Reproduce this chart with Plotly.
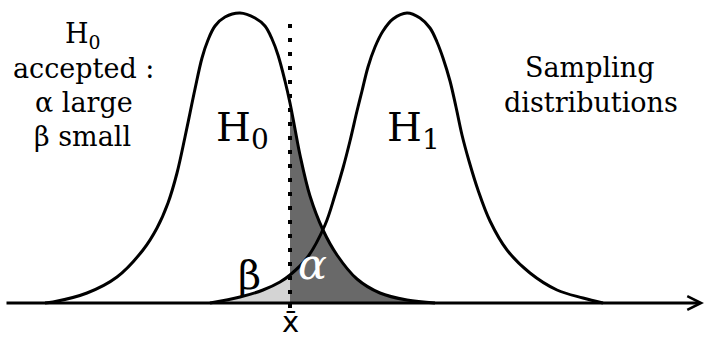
import plotly.graph_objects as go

# curve samples (x in px, height above the axis in px)
h0_x = [45, 53, 87, 117, 143, 157, 168, 177, 185, 190, 195, 202, 208, 215, 225, 240,
        255, 265, 272, 278, 285, 290, 295, 300, 310, 323, 337, 357, 380, 407, 435]
h0_y = [0, 1, 10, 26, 53, 75, 100, 130, 166, 190, 214, 245, 263, 277, 286, 290,
        285, 277, 264, 248, 222, 200, 174, 148, 107, 73, 48, 24, 10, 3, 0]

h1_x = [210, 240, 263, 280, 290, 307, 325, 335, 343, 350, 357, 362, 368, 375, 383, 393, 407,
        420, 430, 437, 443, 450, 456, 462, 469, 478, 490, 507, 530, 557, 583, 603]
h1_y = [0, 6, 13, 21, 28, 45, 78, 108, 135, 162, 192, 212, 236, 256, 272, 284, 290,
        285, 275, 261, 245, 222, 196, 168, 142, 113, 82, 53, 30, 13, 5, 0]

xbar = 290
axis_start, axis_end = 5, 704

serif = "DejaVu Serif"

fig = go.Figure()

# alpha: tail of H0 right of xbar
ax_ = [x for x in h0_x if x >= xbar]
ay_ = [y for x, y in zip(h0_x, h0_y) if x >= xbar]
fig.add_trace(go.Scatter(x=ax_, y=ay_, mode="lines", line=dict(width=0, shape="spline"),
                         fill="tozeroy", fillcolor="rgb(105,105,105)", hoverinfo="skip"))

# beta: tail of H1 left of xbar
bx_ = [x for x in h1_x if x <= xbar]
by_ = [y for x, y in zip(h1_x, h1_y) if x <= xbar]
fig.add_trace(go.Scatter(x=bx_, y=by_, mode="lines", line=dict(width=0, shape="spline"),
                         fill="tozeroy", fillcolor="rgb(212,212,212)", hoverinfo="skip"))

# the two sampling distributions
for xs, ys in [(h0_x, h0_y), (h1_x, h1_y)]:
    fig.add_trace(go.Scatter(x=xs, y=ys, mode="lines",
                             line=dict(color="black", width=3, shape="spline", smoothing=1),
                             hoverinfo="skip"))

# dotted line at xbar
fig.add_trace(go.Scatter(x=[xbar, xbar], y=[-5, 289], mode="lines",
                         line=dict(color="black", width=4, dash="4px,10px"), hoverinfo="skip"))

# horizontal axis with arrow
fig.add_annotation(x=axis_end, y=0, ax=axis_start, ay=0, xref="x", yref="y", axref="x", ayref="y",
                   showarrow=True, arrowhead=5, arrowwidth=3, arrowsize=0.9, arrowcolor="black", text="")

def label(txt, x, y, size, color="black", family=serif, yanchor="middle"):
    fig.add_annotation(x=x, y=y, text=txt, showarrow=False, xanchor="center", yanchor=yanchor,
                       font=dict(family=family, size=size, color=color))

label("H<sub>0</sub>", 83, 268, 27)
label("accepted :", 83, 235, 27)
label("α large", 84, 201, 27)
label("β small", 82, 167, 27)
label("Sampling", 589, 236, 27)
label("distributions", 591, 201, 27)
label("H<sub>0</sub>", 242, 173, 40)
label("H<sub>1</sub>", 413, 173, 40)
label("β", 249, 28, 40)
label("<i>α</i>", 312, 39, 43, color="white")
label("x̄", xbar, -38, 29, family="DejaVu Sans", yanchor="bottom")

fig.update_layout(width=707, height=341, margin=dict(l=0, r=0, t=0, b=0),
                  paper_bgcolor="white", plot_bgcolor="white", showlegend=False)
fig.update_xaxes(range=[0, 707], visible=False)
fig.update_yaxes(range=[-38, 303], visible=False)

fig.write_html("out.html", config={"displayModeBar": False},
               post_script="document.body.style.margin='0px';")
